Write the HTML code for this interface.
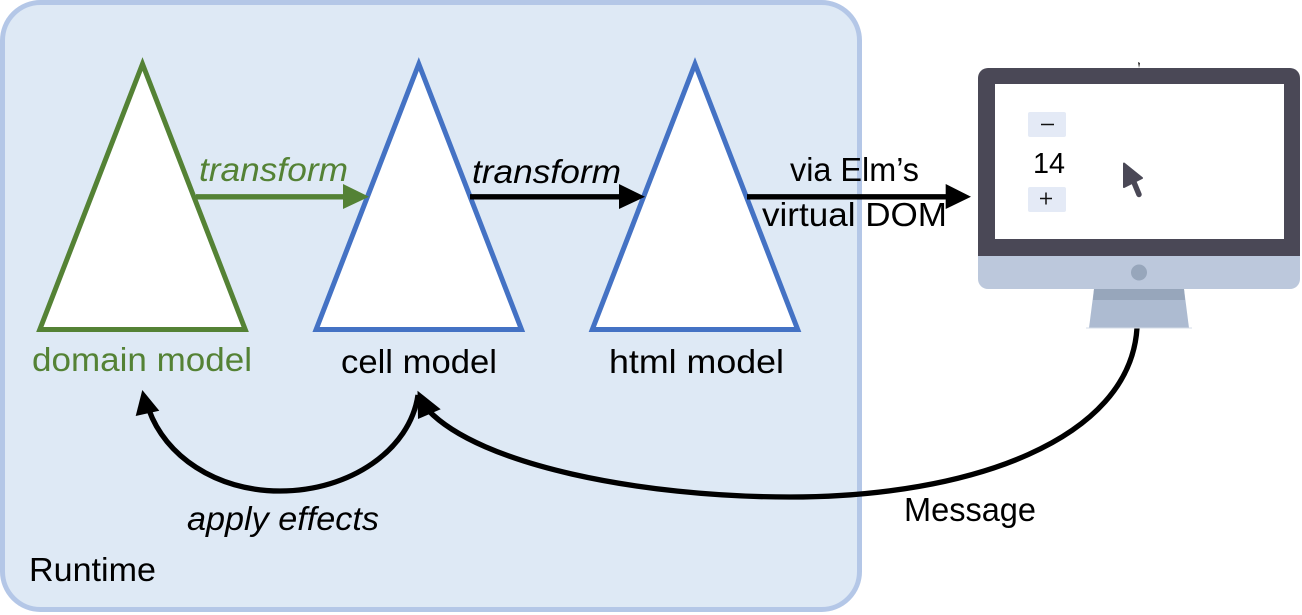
<!DOCTYPE html>
<html>
<head>
<meta charset="utf-8">
<style>
html,body{margin:0;padding:0;background:#fff;width:1302px;height:615px;overflow:hidden}
svg{display:block}
text{font-family:"Liberation Sans",sans-serif;font-size:33px;fill:#000}
</style>
</head>
<body>
<svg width="1302" height="615" viewBox="0 0 1302 615" xmlns="http://www.w3.org/2000/svg">
  <rect x="2.500" y="2.500" width="857" height="607" rx="38" fill="#dee9f5" stroke="#b4c7e7" stroke-width="5"/>

  <polygon points="142.500,64 39.800,329.500 245.200,329.500" fill="#fff" stroke="#548235" stroke-width="5"/>
  <polygon points="418.800,64 316.100,329.500 521.500,329.500" fill="#fff" stroke="#4472c4" stroke-width="5"/>
  <polygon points="695,64 592.300,329.500 797.700,329.500" fill="#fff" stroke="#4472c4" stroke-width="5"/>

  <!-- straight arrows -->
  <line x1="196" y1="196.800" x2="346" y2="196.800" stroke="#548235" stroke-width="5.300"/>
  <polygon points="343,184 369,196.800 343,209" fill="#548235"/>
  <line x1="470" y1="196.800" x2="622" y2="196.800" stroke="#000" stroke-width="5.300"/>
  <polygon points="619,184 645,196.800 619,209" fill="#000"/>
  <line x1="747" y1="196.800" x2="948" y2="196.800" stroke="#000" stroke-width="5.300"/>
  <polygon points="945.700,184 971,196.800 945.700,209" fill="#000"/>

  <!-- curved arrows -->
  <path d="M418,395 C410,450 350,491 280,491 C215,491 165,455 149,410" fill="none" stroke="#000" stroke-width="5.300"/>
  <polygon points="142.300,390 159.300,410.700 135.700,416" fill="#000"/>
  <path d="M1137,328 C1130,440 970,497 790,497 C640,497 480,465 428,410" fill="none" stroke="#000" stroke-width="5.300"/>
  <polygon points="417.500,390.700 440.700,409.300 418,419" fill="#000"/>

  <!-- monitor -->
  <path d="M1138,62 l2,1 l-1,5 z" fill="#222"/>
  <polygon points="1094,289 1184,289 1189,328 1089,328" fill="#adbbd1"/>
  <rect x="1086" y="327.500" width="106" height="1" fill="#d5dce8"/>
  <polygon points="1094,289 1184,289 1185,300 1093,300" fill="#97a6bb"/>
  <path d="M978,256 H1300 V279 a10,10 0 0 1 -10,10 H988 a10,10 0 0 1 -10,-10 Z" fill="#bcc8dc"/>
  <path d="M978,256 V78 a10,10 0 0 1 10,-10 H1290 a10,10 0 0 1 10,10 V256 Z" fill="#4a4856"/>
  <rect x="995" y="84" width="289" height="155" fill="#fff"/>
  <circle cx="1139" cy="272.500" r="8" fill="#97a6bb"/>
  <rect x="1028" y="112" width="38" height="25" rx="2" fill="#e4eaf6"/>
  <rect x="1028" y="187" width="38" height="25" rx="2" fill="#e4eaf6"/>
  <line x1="1041" y1="124.500" x2="1054" y2="124.500" stroke="#111" stroke-width="1.500"/>
  <line x1="1040" y1="198.500" x2="1052" y2="198.500" stroke="#111" stroke-width="1.500"/>
  <line x1="1046" y1="192.500" x2="1046" y2="204.500" stroke="#111" stroke-width="1.500"/>
  <text x="1033" y="173" textLength="32" lengthAdjust="spacingAndGlyphs" style="font-size:29px">14</text>
  <polygon points="1124,163.500 1142,178 1124,187" fill="#4a4856" stroke="#4a4856" stroke-width="2" stroke-linejoin="round"/>
  <line x1="1133" y1="180" x2="1139" y2="194.500" stroke="#4a4856" stroke-width="5.500" stroke-linecap="round"/>

  <!-- labels -->
  <text x="32" y="371" textLength="220" lengthAdjust="spacingAndGlyphs" style="fill:#548235">domain model</text>
  <text x="341" y="373" textLength="156" lengthAdjust="spacingAndGlyphs">cell model</text>
  <text x="609" y="373" textLength="175" lengthAdjust="spacingAndGlyphs">html model</text>
  <text x="199" y="181" textLength="149" lengthAdjust="spacingAndGlyphs" style="fill:#548235;font-style:italic">transform</text>
  <text x="472" y="183" textLength="149" lengthAdjust="spacingAndGlyphs" style="font-style:italic">transform</text>
  <text x="790" y="181" textLength="129" lengthAdjust="spacingAndGlyphs">via Elm’s</text>
  <text x="762" y="226" textLength="185" lengthAdjust="spacingAndGlyphs">virtual DOM</text>
  <text x="904" y="521" textLength="132" lengthAdjust="spacingAndGlyphs">Message</text>
  <text x="187" y="530" textLength="192" lengthAdjust="spacingAndGlyphs" style="font-style:italic">apply effects</text>
  <text x="29" y="581" textLength="127" lengthAdjust="spacingAndGlyphs">Runtime</text>
</svg>
</body>
</html>
